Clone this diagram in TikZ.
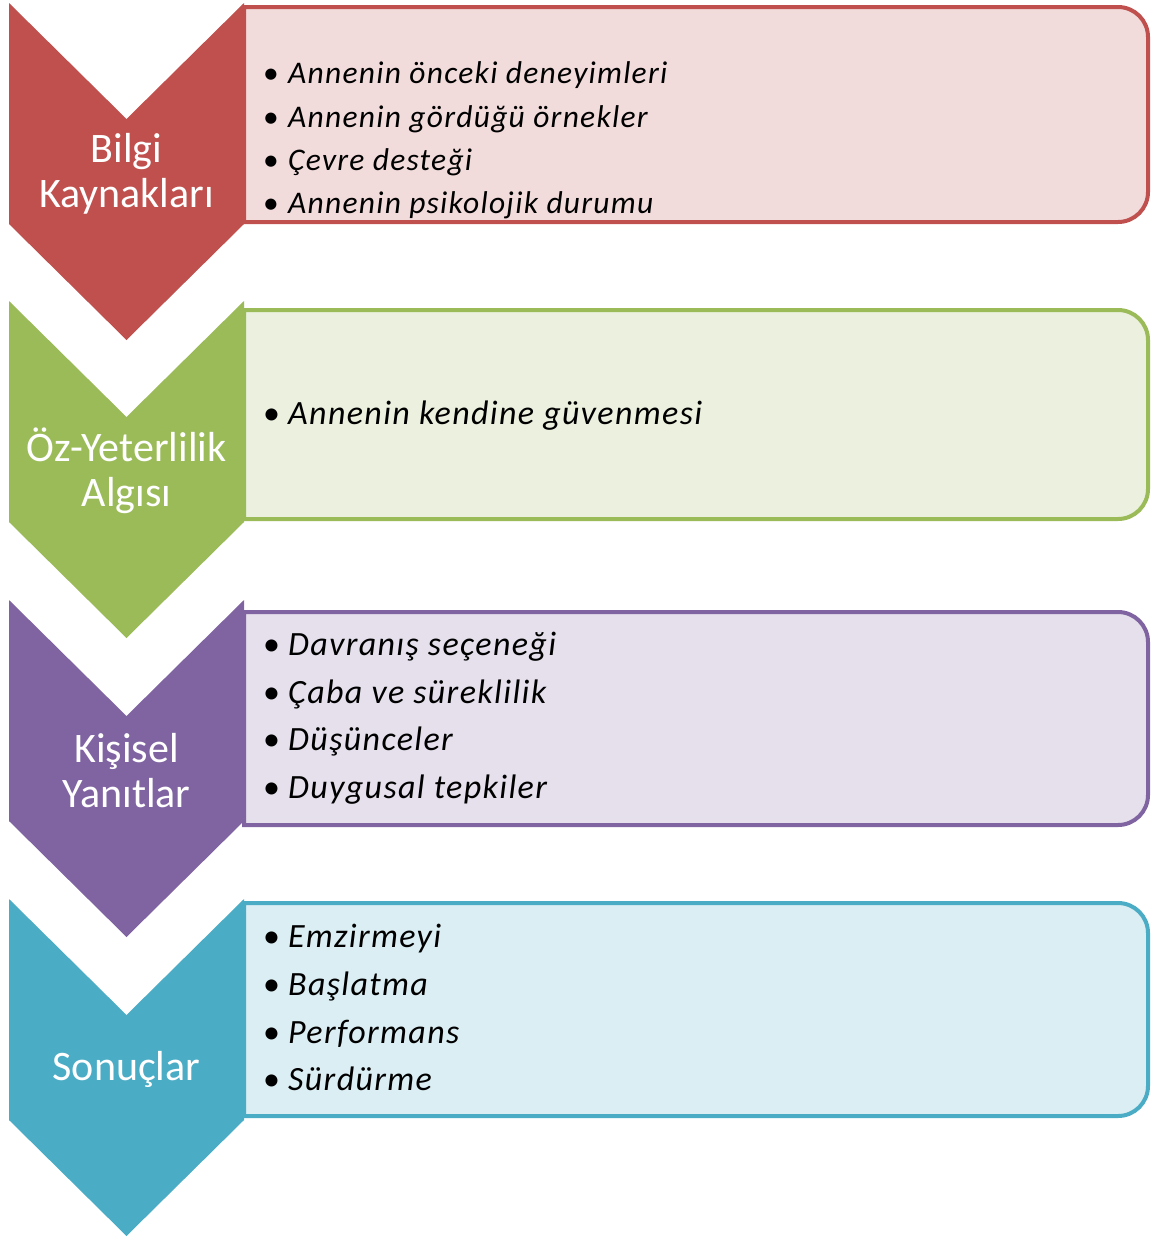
\documentclass[tikz,border=0pt]{standalone}
\usepackage{fontspec}
\setmainfont{Carlito}
\newfontfamily\maddefont[LetterSpace=4]{Carlito}
\usepackage{tikz}

\definecolor{redA}{HTML}{C0504D}
\definecolor{redB}{HTML}{F2DCDB}
\definecolor{greenA}{HTML}{9BBB59}
\definecolor{greenB}{HTML}{EBF1DE}
\definecolor{purpleA}{HTML}{8064A2}
\definecolor{purpleB}{HTML}{E5E0EC}
\definecolor{blueA}{HTML}{4BACC6}
\definecolor{blueB}{HTML}{DBEEF3}

\newcommand{\madde}[1]{\makebox[25pt][l]{\upshape\textbullet}#1}

\begin{document}
\begin{tikzpicture}[x=1pt,y=-1pt]
	\tikzset{panel/.style 2 args={draw=#1, fill=#2, line width=4pt}}
	\tikzset{lbl/.style={text=white, align=center, font=\fontsize{42}{45}\selectfont}}
	\tikzset{item/.style={anchor=base west, inner sep=0pt, font=\fontsize{#1}{#1}\selectfont\maddefont\itshape}, item/.default=34}
	\useasboundingbox (0,0) rectangle (1155,1243);
	% boxes
	\foreach \t/\b/\ca/\cb in {7/222/redA/redB, 310/519/greenA/greenB, 612/825/purpleA/purpleB, 903/1116/blueA/blueB}
		\draw[panel={\ca}{\cb}] (244,\t) -- (1118,\t) arc[start angle=270, end angle=360, radius=30]
			-- (1148,\b-30) arc[start angle=0, end angle=90, radius=30] -- (244,\b) -- cycle;
	% chevrons
	\foreach \T/\c in {3/redA, 301/greenA, 600/purpleA, 899/blueA}
		\fill[\c] (9,\T) -- (126.5,\T+116) -- (244,\T) -- (244,\T+221) -- (126.5,\T+337) -- (9,\T+221) -- cycle;
	\node [lbl] (bilgi) at (126.5,174) {Bilgi\\Kaynakları};
	\node [lbl] (oz) at (126.5,471) {Öz-Yeterlilik\\Algısı};
	\node [lbl] (kisisel) at (126.5,771) {Kişisel\\Yanıtlar};
	\node [lbl] (sonuc) at (126.5,1069) {Sonuçlar};
	% items
	\node [item=31.5] (b1) at (263,83) {\madde{Annenin önceki deneyimleri}};
	\node [item=31.5] (b2) at (263,127) {\madde{Annenin gördüğü örnekler}};
	\node [item=31.5] (b3) at (263,170) {\madde{Çevre desteği}};
	\node [item=31.5] (b4) at (263,213) {\madde{Annenin psikolojik durumu}};
	\node [item] (o1) at (263,424) {\madde{Annenin kendine güvenmesi}};
	\node [item] (k1) at (263,655) {\madde{Davranış seçeneği}};
	\node [item] (k2) at (263,703) {\madde{Çaba ve süreklilik}};
	\node [item] (k3) at (263,750) {\madde{Düşünceler}};
	\node [item] (k4) at (263,798) {\madde{Duygusal tepkiler}};
	\node [item] (s1) at (263,947) {\madde{Emzirmeyi}};
	\node [item] (s2) at (263,995) {\madde{Başlatma}};
	\node [item] (s3) at (263,1043) {\madde{Performans}};
	\node [item] (s4) at (263,1090) {\madde{Sürdürme}};
\end{tikzpicture}
\end{document}
